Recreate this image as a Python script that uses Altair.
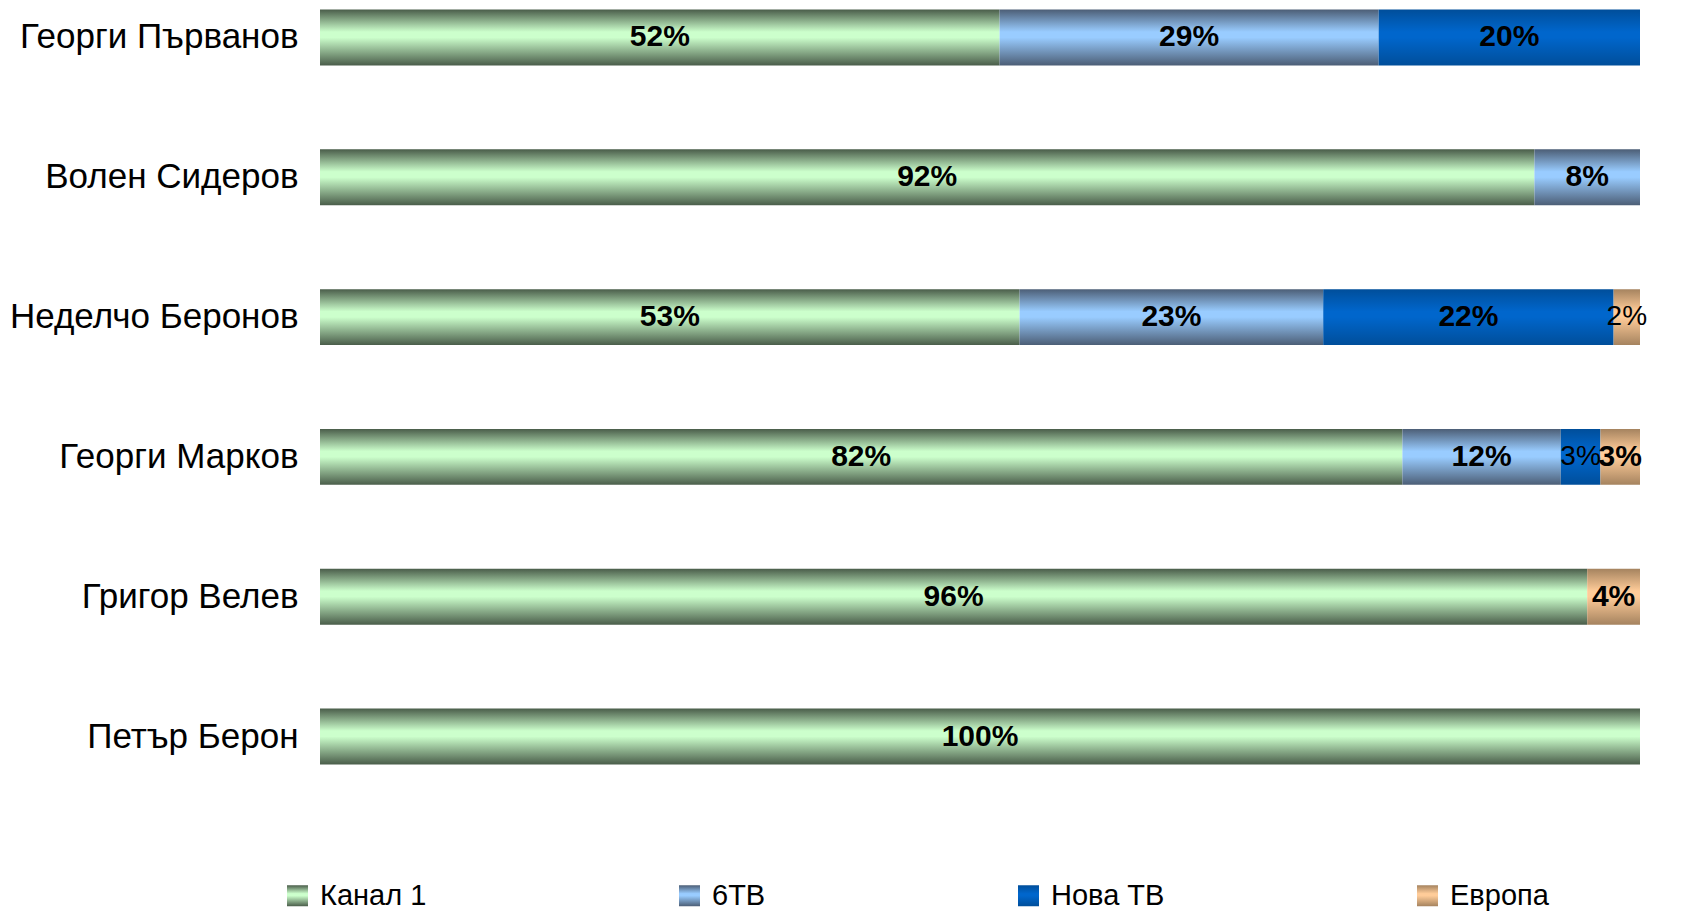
import altair as alt
import pandas as pd

names = ["Георги Първанов", "Волен Сидеров", "Неделчо Беронов",
         "Георги Марков", "Григор Велев", "Петър Берон"]
series = ["Канал 1", "6ТВ", "Нова ТВ", "Европа"]
kanal1 = [52, 92, 53, 82, 96, 100]
btv = [29, 8, 23, 12, 0, 0]
nova = [20, 0, 22, 3, 0, 0]
evropa = [0, 0, 2, 3, 4, 0]
thin_labels = [("Неделчо Беронов", "Европа"), ("Георги Марков", "Нова ТВ")]

edge_colors = ["#4a5d4a", "#4c5e76", "#004e9a", "#a5835f"]
mid_colors = ["#ccffcc", "#99ccff", "#0066cc", "#ffcc99"]

rows = []
for i, n in enumerate(names):
    for j, (s, vals) in enumerate(zip(series, [kanal1, btv, nova, evropa])):
        v = vals[i]
        if v > 0:
            rows.append({
                "name": n, "series": s, "order": j, "value": v,
                "label": f"{v}%",
                "weight": "normal" if (n, s) in thin_labels else "bold",
            })
df = pd.DataFrame(rows)


def grad(edge, mid):
    return {"expr": (
        "{gradient: 'linear', x1: 0, y1: 0, x2: 0, y2: 1, stops: ["
        f"{{offset: 0, color: '{edge}'}}, {{offset: 0.4, color: '{mid}'}}, "
        f"{{offset: 0.5, color: '{mid}'}}, {{offset: 1, color: '{edge}'}}]}}"
    )}


color_scale = alt.Scale(domain=series,
                        range=[grad(e, m) for e, m in zip(edge_colors, mid_colors)])

FONT = "Liberation Sans"

y_enc = alt.Y("name:N", sort=names,
              scale=alt.Scale(paddingInner=0.6, paddingOuter=0.011),
              axis=alt.Axis(title=None, labelFontSize=35, labelFont=FONT,
                            labelColor="black", ticks=False, domain=False,
                            labelPadding=22, labelLimit=0, grid=False))

base = alt.Chart(df).transform_stack(
    stack="value", groupby=["name"], sort=[alt.SortField("order")],
    as_=["x0", "x1"], offset="normalize")

bars = base.mark_bar().encode(
    y=y_enc,
    x=alt.X("x0:Q", scale=alt.Scale(domain=[0, 1]), axis=None),
    x2="x1:Q",
    color=alt.Color("series:N", scale=color_scale,
                    legend=alt.Legend(orient="none", legendX=-37, legendY=873,
                                      direction="horizontal", title=None,
                                      symbolType="square", symbolSize=441,
                                      symbolStrokeWidth=0,
                                      labelFontSize=29, labelFont=FONT,
                                      labelColor="black", labelOffset=8,
                                      labelLimit=0,
                                      columnPadding=248)),
)

text_base = base.transform_calculate(mid="(datum.x0 + datum.x1) / 2")

bold_text = text_base.transform_filter("datum.weight == 'bold'").mark_text(
    font=FONT, fontSize=30, fontWeight="bold", color="black"
).encode(x="mid:Q", y=alt.Y("name:N", sort=names), text="label:N")

thin_text = text_base.transform_filter("datum.weight == 'normal'").mark_text(
    font=FONT, fontSize=28, fontWeight="normal", color="black"
).encode(x="mid:Q", y=alt.Y("name:N", sort=names), text="label:N")

chart = alt.layer(bars, bold_text, thin_text).properties(
    width=1320, height=758,
    padding={"left": 312, "top": 0, "right": 30, "bottom": 152},
    autosize=alt.AutoSizeParams(type="none"),
).configure_view(stroke=None)

chart.save("out.html", embed_options={"renderer": "svg", "actions": False})
